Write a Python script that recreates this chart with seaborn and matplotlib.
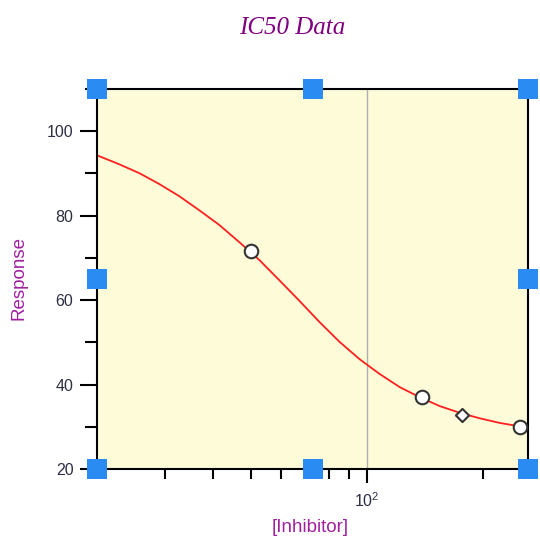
import numpy as np
import pandas as pd
import seaborn as sns
import matplotlib.pyplot as plt
from matplotlib.ticker import FixedLocator, MultipleLocator, NullFormatter

# measured points
inhibitor = [50, 139, 177, 250]
response = [71.6, 37.0, 32.8, 29.9]
marker_shapes = ["o", "o", "D", "o"]

# fitted curve
curve_x = [20, 22.8, 25.7, 29.0, 32.7, 36.8, 41.5, 46.8, 52.7, 59.4, 67.0,
           75.5, 85.1, 95.9, 108.1, 121.8, 137.3, 154.7, 174.4, 196.6,
           221.6, 249.7, 262]
curve_y = [94.3, 92.2, 90.1, 87.5, 84.6, 81.3, 77.8, 73.7, 69.5, 64.7, 59.8,
           54.8, 50.1, 46.0, 42.5, 39.4, 37.0, 34.9, 33.3, 32.0,
           30.9, 30.1, 29.8]

sns.set_style("ticks")
plt.rcParams["font.family"] = ["Liberation Sans", "DejaVu Sans"]

fig = plt.figure(figsize=(5.4, 5.39), dpi=100)
ax = fig.add_axes([97 / 540, 1 - 469 / 539, 431 / 540, 380 / 539])
ax.set_facecolor("#fdfbd8")

curve = pd.DataFrame({"x": curve_x, "y": curve_y})
sns.lineplot(data=curve, x="x", y="y", ax=ax, color="#ff2020", lw=1.3,
             sort=False, estimator=None)

pts = pd.DataFrame({"x": inhibitor, "y": response, "m": marker_shapes})
for shape, sz in [("o", 95), ("D", 45)]:
    sub = pts[pts["m"] == shape]
    sns.scatterplot(data=sub, x="x", y="y", ax=ax, marker=shape, s=sz,
                    facecolor="white", edgecolor="#333333", linewidth=1.5,
                    zorder=5, clip_on=False)

ax.set_xscale("log")
ax.set_xlim(20, 262)
ax.set_ylim(20, 110)
ax.axvline(100, color="#b0b0b0", lw=1.0, zorder=1)

ax.xaxis.set_major_locator(FixedLocator([100]))
ax.xaxis.set_minor_locator(FixedLocator([20, 30, 40, 50, 60, 70, 80, 90, 200]))
ax.xaxis.set_minor_formatter(NullFormatter())
ax.yaxis.set_major_locator(FixedLocator([20, 40, 60, 80, 100]))
ax.yaxis.set_minor_locator(MultipleLocator(10))

ax.tick_params(axis="both", which="both", direction="out", color="black",
               labelcolor="#2e2e44", labelsize=11.5, width=1.5)
ax.tick_params(axis="y", which="major", length=12, pad=5)
ax.tick_params(axis="y", which="minor", length=8.5)
ax.tick_params(axis="x", which="major", length=10, pad=6)
ax.tick_params(axis="x", which="minor", length=7)

for sp in ax.spines.values():
    sp.set_visible(True)
    sp.set_linewidth(1.5)
    sp.set_color("black")

ax.set_xlabel("[Inhibitor]", color="#a020a0", fontsize=13.5, va="center")
ax.xaxis.set_label_coords(0.494, -0.155)
ax.set_ylabel("Response", color="#a020a0", fontsize=13.5, va="center")
ax.yaxis.set_label_coords(-0.181, 0.503)

# selection handles around the plot box
hx = [0, 0.5, 1, 0, 1, 0, 0.5, 1]
hy = [1, 1, 1, 0.5, 0.5, 0, 0, 0]
ax.scatter(hx, hy, marker="s", s=200, color="#2a8cf2", transform=ax.transAxes,
           clip_on=False, zorder=10, linewidths=0)

fig.text(292 / 540, 1 - 28 / 539, "IC50 Data", ha="center", va="center",
         fontsize=18, style="italic", color="#800080",
         family=["Liberation Serif", "DejaVu Serif"])

fig.savefig("out.png", dpi=100, facecolor="white")
